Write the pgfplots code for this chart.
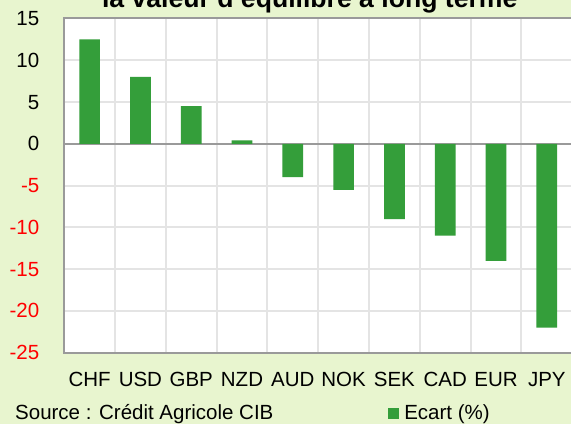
\documentclass[border=0pt]{standalone}
\usepackage{fontspec}
\setmainfont{Liberation Sans}
\usepackage{pgfplots}
\pgfplotsset{compat=1.18}
\definecolor{bg}{HTML}{E8F5CF}
\definecolor{bargreen}{HTML}{349E3A}
\definecolor{gridgray}{HTML}{E4E4E4}
\definecolor{framegray}{HTML}{9A9A9A}
\begin{document}
\begin{tikzpicture}
\path[use as bounding box, fill=bg] (0,0) rectangle (571bp,424bp);
\clip (0,0) rectangle (571bp,424bp);
\begin{axis}[
  at={(64.2bp,71.3bp)}, anchor=south west,
  scale only axis, width=508bp, height=334.2bp,
  xmin=-0.5, xmax=9.5, ymin=-25, ymax=15,
  axis background/.style={fill=white},
  axis line style={draw=framegray, line width=2bp},
  xtick={0,...,9},
  xticklabels={CHF,USD,GBP,NZD,AUD,NOK,SEK,CAD,EUR,JPY},
  minor xtick={0.5,1.5,...,8.5},
  xminorgrids, ymajorgrids,
  ytick={-25,-20,-15,-10,-5,0,5,10,15},
  yticklabels={\textcolor{red}{-25},\textcolor{red}{-20},\textcolor{red}{-15},\textcolor{red}{-10},\textcolor{red}{-5},0,5,10,15},
  major tick length=0pt, minor tick length=0pt,
  major grid style={draw=gridgray, line width=2bp},
  minor grid style={draw=gridgray, line width=2bp},
  ticklabel style={font=\fontsize{20.5bp}{24bp}\selectfont, inner sep=0pt},
  xticklabel style={anchor=base, yshift=-33.3bp},
  yticklabel style={anchor=east, xshift=-24.7bp},
  extra y ticks={0}, extra y tick labels={},
  extra y tick style={ymajorgrids=true, major grid style={draw=framegray, line width=2bp}},
  legend image code/.code={\fill[bargreen] (0bp,0.7bp) rectangle (10.7bp,11.4bp);},
  legend style={draw=none, fill=none, inner sep=0pt, outer sep=0pt,
    column sep=5.3bp, font=\fontsize{20.5bp}{24bp}\selectfont,
    nodes={inner sep=0pt, anchor=base},
    at={(axis description cs:0.638,-0.2035)}, anchor=south west},
]
\addplot[ybar, bar width=20.7bp, bar shift=0pt, fill=bargreen, draw=none]
  coordinates {(0,12.5) (1,8) (2,4.5) (3,0.4) (4,-4) (5,-5.5) (6,-9) (7,-11) (8,-14) (9,-22)};
\addlegendentry{Ecart (\%)}
\end{axis}
\node[anchor=base, inner sep=0pt, font=\bfseries\fontsize{26.6bp}{30bp}\selectfont] at (309.7bp,416bp) {la valeur d'équilibre à long terme};
\node[anchor=base west, inner sep=0pt, font=\fontsize{20.5bp}{24bp}\selectfont] at (15bp,4.3bp) {Source : Crédit Agricole CIB};
\end{tikzpicture}
\end{document}
